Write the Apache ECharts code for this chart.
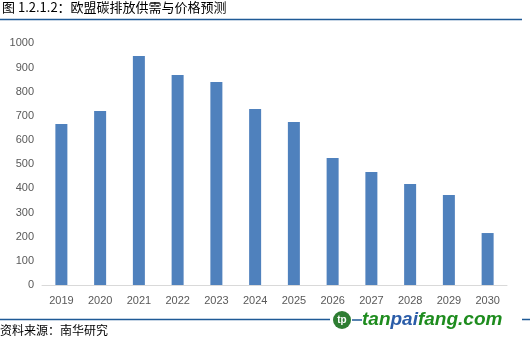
<!DOCTYPE html>
<html>
<head>
<meta charset="utf-8">
<script src="https://cdn.jsdelivr.net/npm/echarts@6/dist/echarts.min.js"></script>
<style>html,body{margin:0;padding:0;background:#fff;}#c{width:530px;height:340px;}</style>
</head>
<body>
<div id="c"></div>
<script>
const categories = ['2019','2020','2021','2022','2023','2024','2025','2026','2027','2028','2029','2030'];
const values = [666, 720, 947, 869, 840, 728, 674, 525, 468, 418, 372, 215];
const yTicks = [0, 100, 200, 300, 400, 500, 600, 700, 800, 900, 1000];
const titleText = '图 1.2.1.2：欧盟碳排放供需与价格预测';
const sourceText = '资料来源：南华研究';

const chart = echarts.init(document.getElementById('c'));
chart.setOption({
  animation: false,
  backgroundColor: '#fff',
  grid: { left: 42, right: 23, top: 43.3, bottom: 55, containLabel: false },
  xAxis: {
    type: 'category',
    data: categories,
    axisLine: { lineStyle: { color: '#d9d9d9', width: 1 } },
    axisTick: { show: false },
    axisLabel: { color: '#595959', fontSize: 11, fontFamily: 'Liberation Sans, Arial, sans-serif', margin: 10 }
  },
  yAxis: {
    type: 'value',
    min: yTicks[0],
    max: yTicks[yTicks.length - 1],
    interval: 100,
    splitLine: { show: false },
    axisLine: { show: false },
    axisTick: { show: false },
    axisLabel: { color: '#595959', fontSize: 11, fontFamily: 'Liberation Sans, Arial, sans-serif', margin: 8, formatter: function (v) { return String(v); } }
  },
  series: [{
    type: 'bar',
    data: values,
    barWidth: 12,
    itemStyle: { color: '#4f81bd' }
  }],
  graphic: [
    { type: 'text', left: 2, top: 1, style: { text: titleText, fontSize: 13, fill: '#000', fontFamily: 'Noto Sans CJK SC, sans-serif' } },
    { type: 'line', shape: { x1: 0, y1: 19.5, x2: 522, y2: 19.5 }, style: { stroke: '#1f5a96', lineWidth: 1.5 } },
    { type: 'line', shape: { x1: 0, y1: 319.5, x2: 530, y2: 319.5 }, style: { stroke: '#1f5a96', lineWidth: 1.5 } },
    { type: 'text', left: 0, top: 324, style: { text: sourceText, fontSize: 12, fill: '#000', fontFamily: 'Noto Sans CJK SC, sans-serif' } },
    { type: 'rect', shape: { x: 330, y: 310, width: 192, height: 20 }, style: { fill: '#fff' } },
    { type: 'circle', shape: { cx: 342, cy: 320, r: 9 }, style: { fill: '#2e7d32' } },
    { type: 'text', x: 342, y: 320, style: { text: 'tp', fontSize: 10, fontWeight: 'bold', fill: '#fff', align: 'center', verticalAlign: 'middle', fontFamily: 'Liberation Sans, sans-serif' } },
    { type: 'line', shape: { x1: 352, y1: 320, x2: 362, y2: 320 }, style: { stroke: '#1f5a96', lineWidth: 1.5 } },
    { type: 'text', x: 362, y: 320, style: {
        text: '{g|tan}{b|pai}{g|fang.com}',
        verticalAlign: 'middle',
        rich: {
          g: { fontSize: 19, fontWeight: 'bold', fontStyle: 'italic', fill: '#1e8c1e', fontFamily: 'Liberation Sans, Arial, sans-serif' },
          b: { fontSize: 19, fontWeight: 'bold', fontStyle: 'italic', fill: '#2a5ca8', fontFamily: 'Liberation Sans, Arial, sans-serif' }
        }
    } }
  ]
});
</script>
</body>
</html>
